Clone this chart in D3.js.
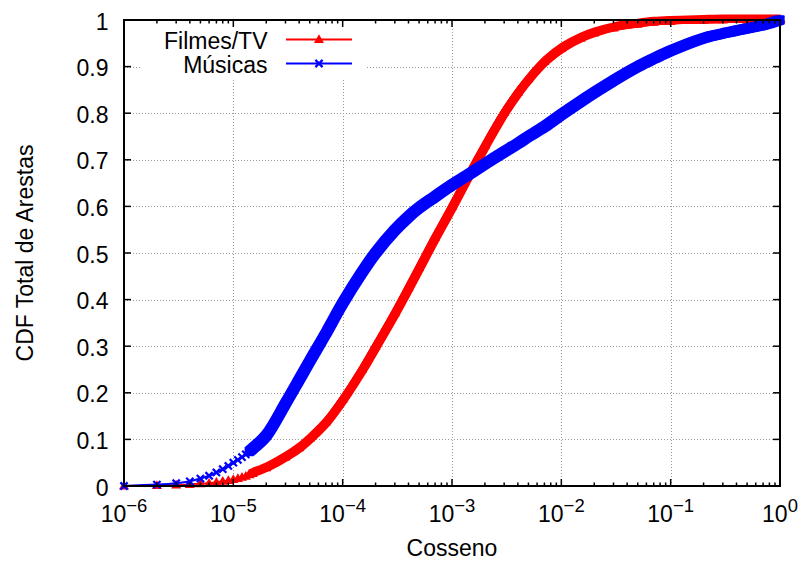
<!DOCTYPE html>
<html><head><meta charset="utf-8">
<script src="https://cdn.jsdelivr.net/npm/d3@7"></script>
<style>
body{margin:0;background:#fff}
svg{display:block}
text{font-family:"Liberation Sans",Arial,Helvetica,sans-serif;fill:#000}
</style>
</head><body>
<svg id="c" width="803" height="562"></svg>
<script>
// ---- data ----
const cosseno = [1e-6,2e-6,3e-6,4e-6,5e-6,6e-6,7e-6,8e-6,9e-6,
  1e-5,1.1e-5,1.2e-5,1.3e-5,1.4e-5,1.5e-5,2e-5,3e-5,4e-5,5e-5,7e-5,
  1e-4,1.5e-4,2e-4,3e-4,4e-4,5e-4,7e-4,
  1e-3,1.5e-3,2e-3,3e-3,4e-3,5e-3,7e-3,
  1e-2,1.5e-2,2e-2,3e-2,5e-2,7e-2,
  1e-1,2e-1,3e-1,5e-1,7e-1,1];
const filmesTV = [0,0.001,0.002,0.003,0.005,0.006,0.008,0.010,0.012,
  0.014,0.016,0.019,0.021,0.024,0.027,0.039,0.062,0.082,0.102,0.137,
  0.186,0.25,0.3,0.372,0.426,0.469,0.534,
  0.6,0.678,0.731,0.802,0.845,0.874,0.911,
  0.939,0.961,0.972,0.983,0.991,0.995,
  0.997,0.999,1,1,1,1];
const musicas = [0,0.003,0.006,0.010,0.016,0.022,0.029,0.036,0.043,
  0.05,0.056,0.062,0.068,0.074,0.08,0.108,0.177,0.228,0.268,0.327,
  0.392,0.458,0.5,0.549,0.578,0.597,0.621,
  0.646,0.672,0.691,0.717,0.735,0.75,0.771,
  0.797,0.825,0.844,0.870,0.9,0.917,
  0.934,0.961,0.971,0.982,0.989,1];
const seriesNames = ["Filmes/TV","Músicas"];
const seriesColors = ["#ff0000","#0000ff"];
const yTicks = [0,0.1,0.2,0.3,0.4,0.5,0.6,0.7,0.8,0.9,1];
const yTickLabels = ["0","0.1","0.2","0.3","0.4","0.5","0.6","0.7","0.8","0.9","1"];
const xTickExps = [-6,-5,-4,-3,-2,-1,0];
const xTitle = "Cosseno";
const yTitle = "CDF Total de Arestas";

// ---- layout ----
const L=124, R=780, T=20, B=486;
const svg = d3.select("#c");
const x = d3.scaleLog().domain([1e-6,1]).range([L,R]);
const y = d3.scaleLinear().domain([0,1]).range([B,T]);

// grid
const grid = svg.append("g").attr("stroke","#999").attr("stroke-width",1).attr("stroke-dasharray","1,2");
xTickExps.slice(1,-1).forEach(e=>{
  const px = Math.round(x(Math.pow(10,e)))+0.5;
  grid.append("line").attr("x1",px).attr("x2",px).attr("y1",T).attr("y2",B);
});
yTicks.slice(1,-1).forEach(v=>{
  const py = Math.round(y(v))+0.5;
  grid.append("line").attr("x1",L).attr("x2",R).attr("y1",py).attr("y2",py);
});

// legend opaque box
svg.append("rect").attr("x",140).attr("y",T+1).attr("width",225).attr("height",57).attr("fill","#fff");

// marker footprints (used to thicken the dense part of each curve like overlapping markers)
const triOffsets = [[0,-4.3],[-1.3,-2.3],[0,-2.3],[1.3,-2.3],[-2.7,-0.3],[-0.9,-0.3],[0.9,-0.3],[2.7,-0.3],
  [-4,1.7],[-2,1.7],[0,1.7],[2,1.7],[4,1.7]];
const crossOffsets = [];
[-3.6,-1.8,0,1.8,3.6].forEach(dx=>[-3.6,-1.8,0,1.8,3.6].forEach(dy=>crossOffsets.push([dx,dy])));
const footprints = [triOffsets, crossOffsets];

const tri = d3.symbol().type(d3.symbolTriangle).size(44);
function drawMarker(g,i,cx,cy){
  if(i===0){
    g.append("path").attr("d",tri).attr("transform",`translate(${cx},${cy+0.6})`).attr("fill",seriesColors[i]);
  } else {
    g.append("path").attr("d",`M${cx-3.6},${cy-3.6}L${cx+3.6},${cy+3.6}M${cx-3.6},${cy+3.6}L${cx+3.6},${cy-3.6}`)
      .attr("stroke",seriesColors[i]).attr("stroke-width",2.2);
  }
}

// curves
const seriesData = [filmesTV, musicas];
const line = d3.line().x(d=>x(d[0])).y(d=>y(d[1])).curve(d3.curveCatmullRom.alpha(0.5));
seriesData.forEach((vals,i)=>{
  const pts = cosseno.map((c,j)=>[c,vals[j]]);
  const g = svg.append("g");
  g.append("path").attr("d",line(pts)).attr("fill","none")
    .attr("stroke",seriesColors[i]).attr("stroke-width",2);
  const dense = line(pts.filter(p=>p[0]>=1.4e-5));
  footprints[i].forEach(([dx,dy])=>{
    g.append("path").attr("d",dense).attr("fill","none").attr("transform",`translate(${dx},${dy})`)
      .attr("stroke",seriesColors[i]).attr("stroke-width",2.4)
      .attr("stroke-linejoin","round").attr("stroke-linecap","round");
  });
  pts.forEach(p=>drawMarker(g,i,x(p[0]),y(p[1])));
});

// border and ticks
const ax = svg.append("g").attr("stroke","#000");
ax.append("rect").attr("x",L).attr("y",T).attr("width",R-L).attr("height",B-T)
  .attr("fill","none").attr("stroke-width",2);
x.ticks().forEach(v=>{
  const px=x(v);
  const isMajor = Math.abs(Math.log10(v)-Math.round(Math.log10(v)))<1e-9;
  const len = isMajor?7:3.5;
  ax.append("line").attr("x1",px).attr("x2",px).attr("y1",B).attr("y2",B-len).attr("stroke-width",1.5);
  ax.append("line").attr("x1",px).attr("x2",px).attr("y1",T).attr("y2",T+len).attr("stroke-width",1.5);
});
yTicks.forEach(v=>{
  const py=y(v);
  ax.append("line").attr("x1",L).attr("x2",L+7).attr("y1",py).attr("y2",py).attr("stroke-width",1.5);
  ax.append("line").attr("x1",R).attr("x2",R-7).attr("y1",py).attr("y2",py).attr("stroke-width",1.5);
});

// tick labels
const FS=23;
yTicks.forEach((v,i)=>{
  svg.append("text").attr("x",108.5).attr("y",y(v)+9.5).attr("text-anchor","end")
    .attr("font-size",FS).text(yTickLabels[i]);
});
xTickExps.forEach(e=>{
  const t = svg.append("text").attr("x",x(Math.pow(10,e))).attr("y",521.5)
    .attr("text-anchor","middle").attr("font-size",FS);
  t.append("tspan").text("10");
  t.append("tspan").attr("dy",-10).attr("font-size",18.5).text(e<0?"\u2212"+Math.abs(e):String(e));
});

// axis titles
svg.append("text").attr("x",(L+R)/2).attr("y",556).attr("text-anchor","middle").attr("font-size",FS).text(xTitle);
svg.append("text").attr("transform",`translate(33,${(T+B)/2}) rotate(-90)`).attr("text-anchor","middle")
  .attr("font-size",FS).text(yTitle);

// legend
seriesNames.forEach((n,i)=>{
  const ly = 39.5 + i*24;
  svg.append("text").attr("x",267.5).attr("y",ly+9).attr("text-anchor","end").attr("font-size",FS).text(n);
  svg.append("line").attr("x1",286).attr("x2",352).attr("y1",ly).attr("y2",ly)
    .attr("stroke",seriesColors[i]).attr("stroke-width",2);
  drawMarker(svg,i,319,ly);
});
</script>
</body></html>
